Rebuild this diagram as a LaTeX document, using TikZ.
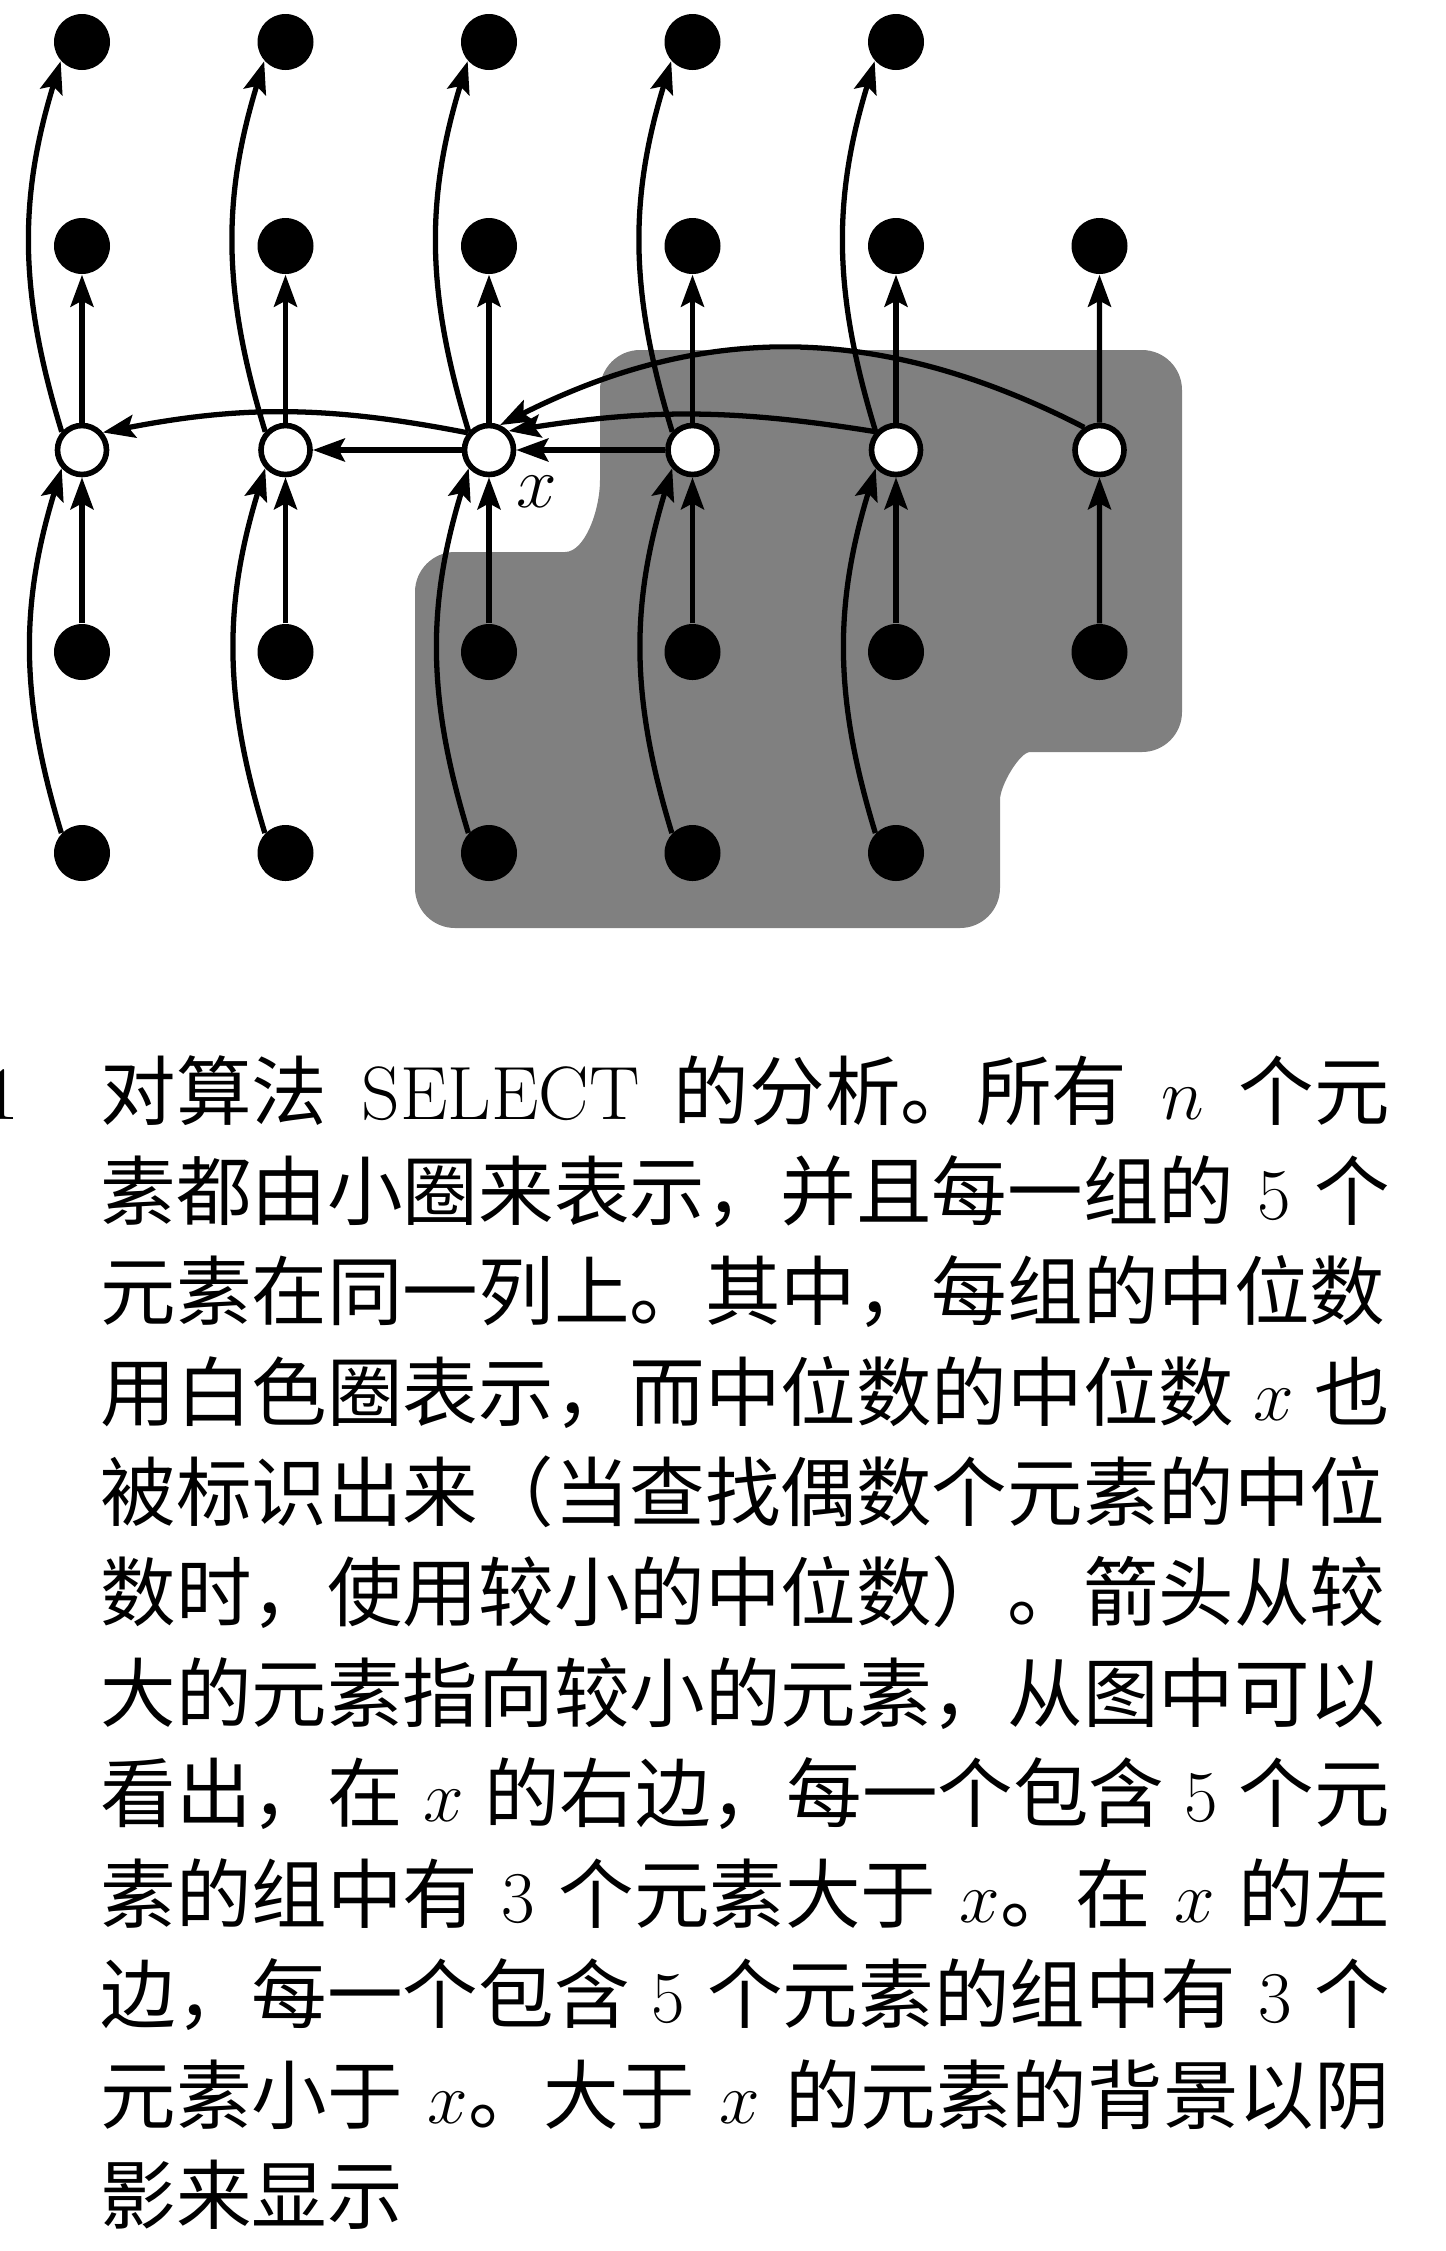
\documentclass[tikz,border=0pt]{standalone}
\usepackage{fontspec}
\newfontfamily\cjk{Noto Sans CJK SC}
\usetikzlibrary{arrows.meta}
\XeTeXlinebreaklocale "zh"
\XeTeXlinebreakskip=0pt plus 1pt minus 0.5pt

\tikzset{
  elem/.style={circle,fill=black,inner sep=0pt,minimum size=5.6mm},
  median/.style={circle,draw,fill=white,line width=1.6pt,inner sep=0pt,minimum size=4.9mm},
  arr/.style={line width=1.5pt,-{Stealth[length=3.2mm,width=2.3mm,inset=0.6mm]}},
  largerzone/.style={fill=black!50},
  capline/.style={anchor=base west,inner sep=0pt,font=\cjk\fontsize{21.5}{26}\selectfont}
}

\begin{document}
\begin{tikzpicture}[font=\fontsize{21.5}{26}\selectfont]
  \useasboundingbox (0,0) rectangle (14.46,-22.51);
  % elements larger than x
  \fill[largerzone,rounded corners=4mm] (9.0,-3.5) -- (11.82,-3.5) -- (11.82,-7.52)
    -- (10.7,-7.52) .. controls (10.2,-7.52) and (10.0,-7.85) .. (10.0,-8.4)
    -- (10.0,-9.28) -- (4.15,-9.28) -- (4.15,-5.52) -- (5.25,-5.52)
    .. controls (5.85,-5.52) and (6.0,-5.1) .. (6.0,-4.4) -- (6.0,-3.5) -- cycle;
  % groups of five
  \foreach \c in {1,...,5}
    \foreach \r/\y in {1/-0.42,2/-2.46,4/-6.52,5/-8.53}
      \node[elem] (e\c\r) at ({0.82+2.035*(\c-1)},\y) {};
  \node[elem] (e62) at (10.995,-2.46) {};
  \node[elem] (e64) at (10.995,-6.52) {};
  \foreach \c in {1,...,6}
    \node[median] (m\c) at ({0.82+2.035*(\c-1)},-4.50) {};
  \node (xlab) at (5.37,-4.92) {$x$};
  % arrows go from larger to smaller
  \foreach \c in {1,...,5} {
    \draw[arr] (m\c) -- (e\c2);
    \draw[arr] (m\c.138) to[out=107,in=-107] (e\c1.222);
    \draw[arr] (e\c4) -- (m\c);
    \draw[arr] (e\c5.136) to[out=107,in=-107] (m\c.222);
  }
  \draw[arr] (m6) -- (e62);
  \draw[arr] (e64) -- (m6);
  \draw[arr] (m4) -- (m3);
  \draw[arr] (m3) -- (m2);
  \draw[arr] (m3.141) to[bend right=11] (m1.40);
  \draw[arr] (m5.138) to[bend right=9] (m3.44);
  \draw[arr] (m6.124) to[bend right=27] (m3.66);
  % caption
  \node[anchor=base east,inner sep=0pt] (fignum) at (0.2,-11.19) {1};
  \node[capline] (l1) at (1.0,-11.19) {\makebox[12.89cm][s]{对算法 \textrm{SELECT} 的分析。所有 $n$ 个元}};
  \node[capline] (l2) at (1.0,-12.19) {\makebox[12.89cm][s]{素都由小圈来表示，并且每一组的 $5$ 个}};
  \node[capline] (l3) at (1.0,-13.19) {\makebox[12.89cm][s]{元素在同一列上。其中，每组的中位数}};
  \node[capline] (l4) at (1.0,-14.20) {\makebox[12.89cm][s]{用白色圈表示，而中位数的中位数 $x$ 也}};
  \node[capline] (l5) at (1.0,-15.20) {\makebox[12.89cm][s]{被标识出来（当查找偶数个元素的中位}};
  \node[capline] (l6) at (1.0,-16.20) {\makebox[12.89cm][s]{数时，使用较小的中位数）。箭头从较}};
  \node[capline] (l7) at (1.0,-17.21) {\makebox[12.89cm][s]{大的元素指向较小的元素，从图中可以}};
  \node[capline] (l8) at (1.0,-18.21) {\makebox[12.89cm][s]{看出，在 $x$ 的右边，每一个包含 $5$ 个元}};
  \node[capline] (l9) at (1.0,-19.22) {\makebox[12.89cm][s]{素的组中有 $3$ 个元素大于 $x$。在 $x$ 的左}};
  \node[capline] (l10) at (1.0,-20.22) {\makebox[12.89cm][s]{边，每一个包含 $5$ 个元素的组中有 $3$ 个}};
  \node[capline] (l11) at (1.0,-21.23) {\makebox[12.89cm][s]{元素小于 $x$。大于 $x$ 的元素的背景以阴}};
  \node[capline] (l12) at (1.0,-22.23) {影来显示};
\end{tikzpicture}
\end{document}
